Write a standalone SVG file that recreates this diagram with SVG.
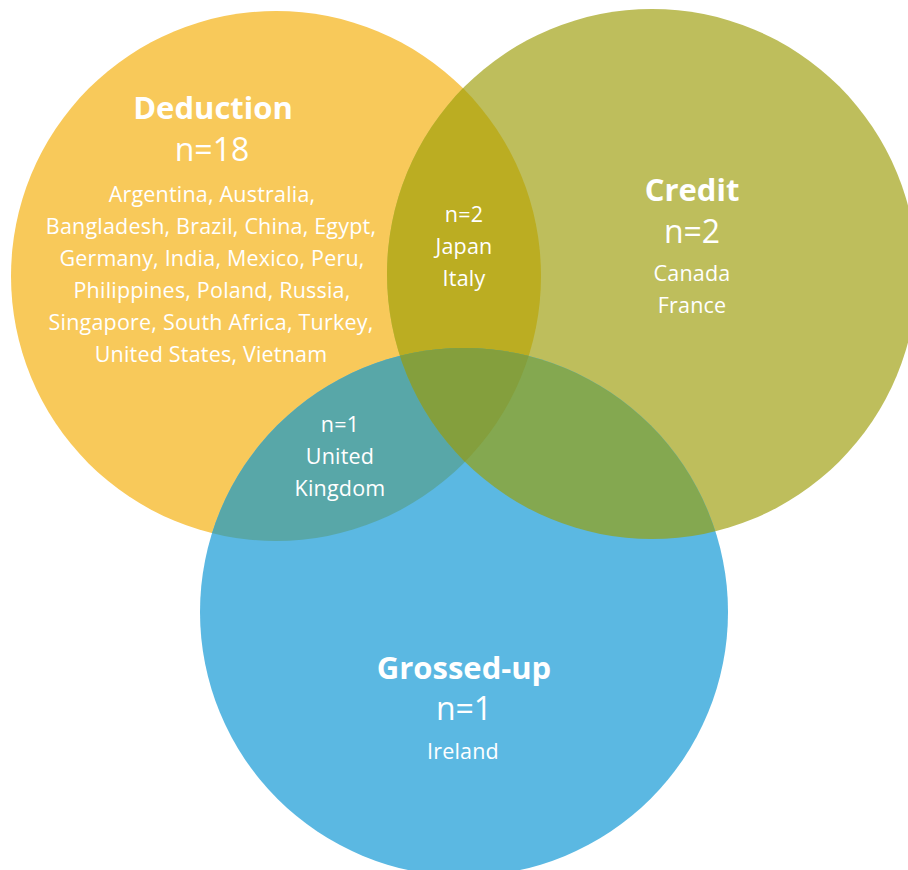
<svg xmlns="http://www.w3.org/2000/svg" width="908" height="870" viewBox="0 0 908 870">
<style>
text{font-family:"Open Sans","Noto Sans","Liberation Sans",sans-serif;fill:#ffffff;text-anchor:middle}
.t{font-size:31px;font-weight:700}
.n{font-size:32px}
.c{font-size:21.5px;letter-spacing:0.2px}
</style>
<defs>
<clipPath id="cDed"><circle cx="276" cy="276" r="265"/></clipPath>
<clipPath id="cCre"><circle cx="652" cy="274" r="265"/></clipPath>
</defs>
<rect width="908" height="870" fill="#ffffff"/>
<g id="deduction"><circle cx="276" cy="276" r="265" fill="#F8C95A"/></g>
<g id="credit"><circle cx="652" cy="274" r="265" fill="#BEBE5C"/></g>
<g id="grossed-up"><circle cx="464" cy="612" r="264" fill="#5BB8E2"/></g>
<g id="overlaps">
<circle cx="652" cy="274" r="265" fill="#BBAD22" clip-path="url(#cDed)"/>
<circle cx="464" cy="612" r="264" fill="#58A7A8" clip-path="url(#cDed)"/>
<circle cx="464" cy="612" r="264" fill="#84A850" clip-path="url(#cCre)"/>
<g clip-path="url(#cDed)"><circle cx="464" cy="612" r="264" fill="#849F3D" clip-path="url(#cCre)"/></g>
</g>
<g id="deduction-label">
<text class="t" x="213" y="119">Deduction</text>
<text class="n" x="212" y="161">n=18</text>
<text class="c" x="212" y="202">Argentina, Australia,</text>
<text class="c" x="211" y="234">Bangladesh, Brazil, China, Egypt,</text>
<text class="c" x="212" y="266">Germany, India, Mexico, Peru,</text>
<text class="c" x="212" y="298">Philippines, Poland, Russia,</text>
<text class="c" x="211" y="330">Singapore, South Africa, Turkey,</text>
<text class="c" x="211" y="362">United States, Vietnam</text>
</g>
<g id="credit-label">
<text class="t" x="692" y="201">Credit</text>
<text class="n" x="692" y="243">n=2</text>
<text class="c" x="692" y="281">Canada</text>
<text class="c" x="692" y="313">France</text>
</g>
<g id="deduction-credit-label">
<text class="c" x="464" y="222">n=2</text>
<text class="c" x="464" y="254">Japan</text>
<text class="c" x="464" y="286">Italy</text>
</g>
<g id="deduction-grossed-label">
<text class="c" x="340" y="432">n=1</text>
<text class="c" x="340" y="464">United</text>
<text class="c" x="340" y="496">Kingdom</text>
</g>
<g id="grossed-up-label">
<text class="t" x="464" y="679">Grossed-up</text>
<text class="n" x="464" y="720">n=1</text>
<text class="c" x="463" y="759">Ireland</text>
</g>
<g id="connectors"/>
</svg>
